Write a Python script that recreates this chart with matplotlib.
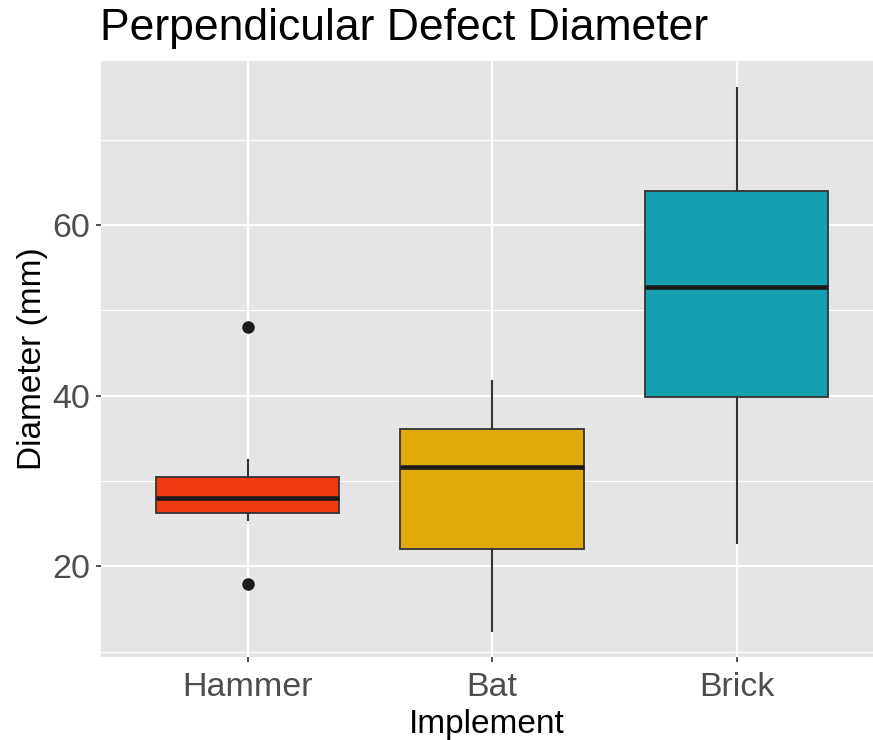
import matplotlib
matplotlib.use("Agg")
import matplotlib.pyplot as plt

# Box statistics (mm)
implements = ["Hammer", "Bat", "Brick"]
whisker_low = [25.4, 12.5, 22.7]
q1 = [26.3, 22.1, 39.9]
median = [28.0, 31.6, 52.7]
q3 = [30.5, 36.1, 64.0]
whisker_high = [32.5, 41.7, 76.0]
outliers = [[48.1, 18.0], [], []]
fill_colors = ["#F03B10", "#E0A90A", "#16A0AF"]

plt.rcParams['font.family'] = ['Liberation Sans', 'DejaVu Sans']

fig = plt.figure(figsize=(8.73, 7.4), dpi=100)
ax = fig.add_axes([101 / 873, 83 / 740, 1 - 101 / 873, (657 - 61) / 740])
ax.set_facecolor("#E5E5E5")

stats = []
for i, name in enumerate(implements):
    stats.append({
        "label": name,
        "whislo": whisker_low[i],
        "q1": q1[i],
        "med": median[i],
        "q3": q3[i],
        "whishi": whisker_high[i],
        "fliers": outliers[i],
    })

positions = list(range(1, len(implements) + 1))
bp = ax.bxp(stats, positions=positions, widths=0.75, patch_artist=True,
            showcaps=False,
            boxprops=dict(edgecolor="#333333", linewidth=1.3),
            medianprops=dict(color="#1A1A1A", linewidth=3.3),
            whiskerprops=dict(color="#333333", linewidth=1.5),
            flierprops=dict(marker="o", markerfacecolor="#1A1A1A",
                            markeredgecolor="#1A1A1A", markersize=8))
for patch, c in zip(bp["boxes"], fill_colors):
    patch.set_facecolor(c)
for item in bp["boxes"] + bp["medians"] + bp["whiskers"] + bp["fliers"]:
    item.set_zorder(3)

ax.set_xlim(0.4, 3.558)
ax.set_ylim(9.4, 79.2)

ax.set_yticks([20, 40, 60])
ax.set_yticks([10, 30, 50, 70], minor=True)
ax.set_xticks(positions)
ax.set_xticklabels(implements)

ax.grid(which="major", color="white", linewidth=1.6, zorder=0)
ax.grid(which="minor", axis="y", color="white", linewidth=0.8, zorder=0)
ax.set_axisbelow(True)

for s in ax.spines.values():
    s.set_visible(False)

ax.tick_params(axis="both", which="major", length=3.5, width=1.2, color="#333333",
               labelsize=24.5, labelcolor="#4D4D4D")
ax.tick_params(axis="x", which="major", pad=7)
ax.tick_params(axis="y", which="major", pad=4)
ax.tick_params(axis="both", which="minor", length=0)

ax.set_xlabel("Implement", fontsize=24, color="black", labelpad=4.5)
ax.set_ylabel("Diameter (mm)", fontsize=24, color="black", labelpad=3)

fig.text(100 / 873, 1 - 40 / 740, "Perpendicular Defect Diameter",
         fontsize=32, color="black", ha="left", va="baseline")

fig.savefig("out.png", dpi=100)
